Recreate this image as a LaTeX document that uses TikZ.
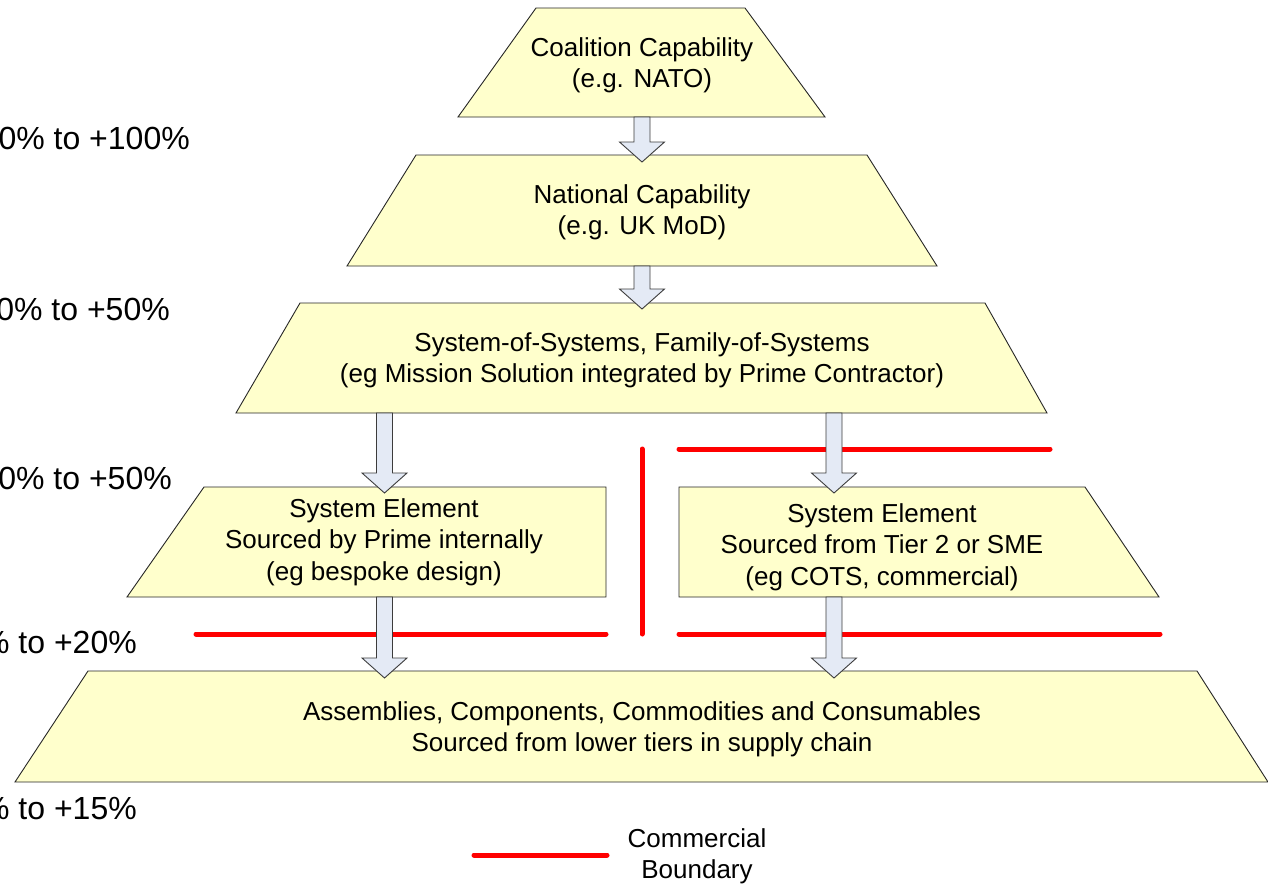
\documentclass[tikz,border=0pt]{standalone}
\usepackage{fontspec}
\setmainfont{Liberation Sans}
\usetikzlibrary{calc}
\definecolor{boxfill}{RGB}{255,255,204}
\definecolor{arrfill}{RGB}{228,234,245}
\definecolor{arrline}{RGB}{60,60,60}
\definecolor{bndred}{RGB}{255,0,0}
\tikzset{
  tier/.style={draw=black!85, line width=0.9pt, fill=boxfill},
  tiertext/.style={align=center, font=\fontsize{26}{31.3}\selectfont, inner sep=0pt},
  pct/.style={anchor=base east, font=\fontsize{32}{38}\selectfont, inner sep=0pt},
  boundary/.style={draw=bndred, line width=5pt, line cap=round},
  blkarrow/.style={draw=arrline, line width=0.9pt, fill=arrfill, line join=miter},
}
\newcommand\blockarrow[2]{%
  \draw[blkarrow] ($(#1)+(-8,0)$) -- ($(#1)+(8,0)$) -- ($(#2)+(8,-20)$) -- ($(#2)+(22.5,-20)$)
    -- (#2) -- ($(#2)+(-22.5,-20)$) -- ($(#2)+(-8,-20)$) -- cycle;}
\begin{document}
\begin{tikzpicture}[x=1pt,y=-1pt]
\useasboundingbox (0,0) rectangle (1268,884);
% tiers
\draw[tier] (536,8) -- (745,8) -- (825,117) -- (458,117) -- cycle;
\node[tiertext] (coal) at (642,65) {Coalition Capability\\(e.g. NATO)};
\draw[tier] (416,155) -- (867,155) -- (937,266) -- (347,266) -- cycle;
\node[tiertext] (nat) at (642,212) {National Capability\\(e.g. UK MoD)};
\draw[tier] (300,303) -- (985,303) -- (1047,413) -- (236,413) -- cycle;
\node[tiertext] (sos) at (642,360) {System-of-Systems, Family-of-Systems\\(eg Mission Solution integrated by Prime Contractor)};
\draw[tier] (204,487) -- (606,487) -- (606,597) -- (127,597) -- cycle;
\node[tiertext] (sel) at (384,542) {System Element\\Sourced by Prime internally\\(eg bespoke design)};
\draw[tier] (679,487) -- (1085,487) -- (1159,597) -- (679,597) -- cycle;
\node[tiertext] (ser) at (882,547) {System Element\\Sourced from Tier 2 or SME\\(eg COTS, commercial)};
\draw[tier] (88,671) -- (1197,671) -- (1268,782) -- (15,782) -- cycle;
\node[tiertext] (asm) at (642,729) {Assemblies, Components, Commodities and Consumables\\Sourced from lower tiers in supply chain};
% commercial boundaries
\coordinate (bv1) at (642,449); \coordinate (bv2) at (642,634);
\coordinate (bt1) at (679,449); \coordinate (bt2) at (1050,449);
\coordinate (bl1) at (196,634); \coordinate (bl2) at (606,634);
\coordinate (br1) at (679,634); \coordinate (br2) at (1160,634);
\draw[boundary] (bv1) -- (bv2);
\draw[boundary] (bt1) -- (bt2);
\draw[boundary] (bl1) -- (bl2);
\draw[boundary] (br1) -- (br2);
% arrows
\coordinate (a1s) at (642,117); \coordinate (a1e) at (642,162);
\coordinate (a2s) at (642,266); \coordinate (a2e) at (642,309);
\coordinate (a3s) at (384.5,413); \coordinate (a3e) at (384.5,493);
\coordinate (a4s) at (834,413); \coordinate (a4e) at (834,493);
\coordinate (a5s) at (384.5,597); \coordinate (a5e) at (384.5,678);
\coordinate (a6s) at (834,597); \coordinate (a6e) at (834,678);
\blockarrow{a1s}{a1e}
\blockarrow{a2s}{a2e}
\blockarrow{a3s}{a3e}
\blockarrow{a4s}{a4e}
\blockarrow{a5s}{a5e}
\blockarrow{a6s}{a6e}
% percentage labels
\node[pct] (p1) at (190,149) {0\% to +100\%};
\node[pct] (p2) at (170,320) {0\% to +50\%};
\node[pct] (p3) at (172,489) {0\% to +50\%};
\node[pct] (p4) at (137,653) {\% to +20\%};
\node[pct] (p5) at (137,819) {\% to +15\%};
% legend
\coordinate (lg1) at (474,855); \coordinate (lg2) at (607,855);
\draw[boundary] (lg1) -- (lg2);
\node[tiertext] (lgt) at (697,856) {Commercial\\Boundary};
\end{tikzpicture}
\end{document}
